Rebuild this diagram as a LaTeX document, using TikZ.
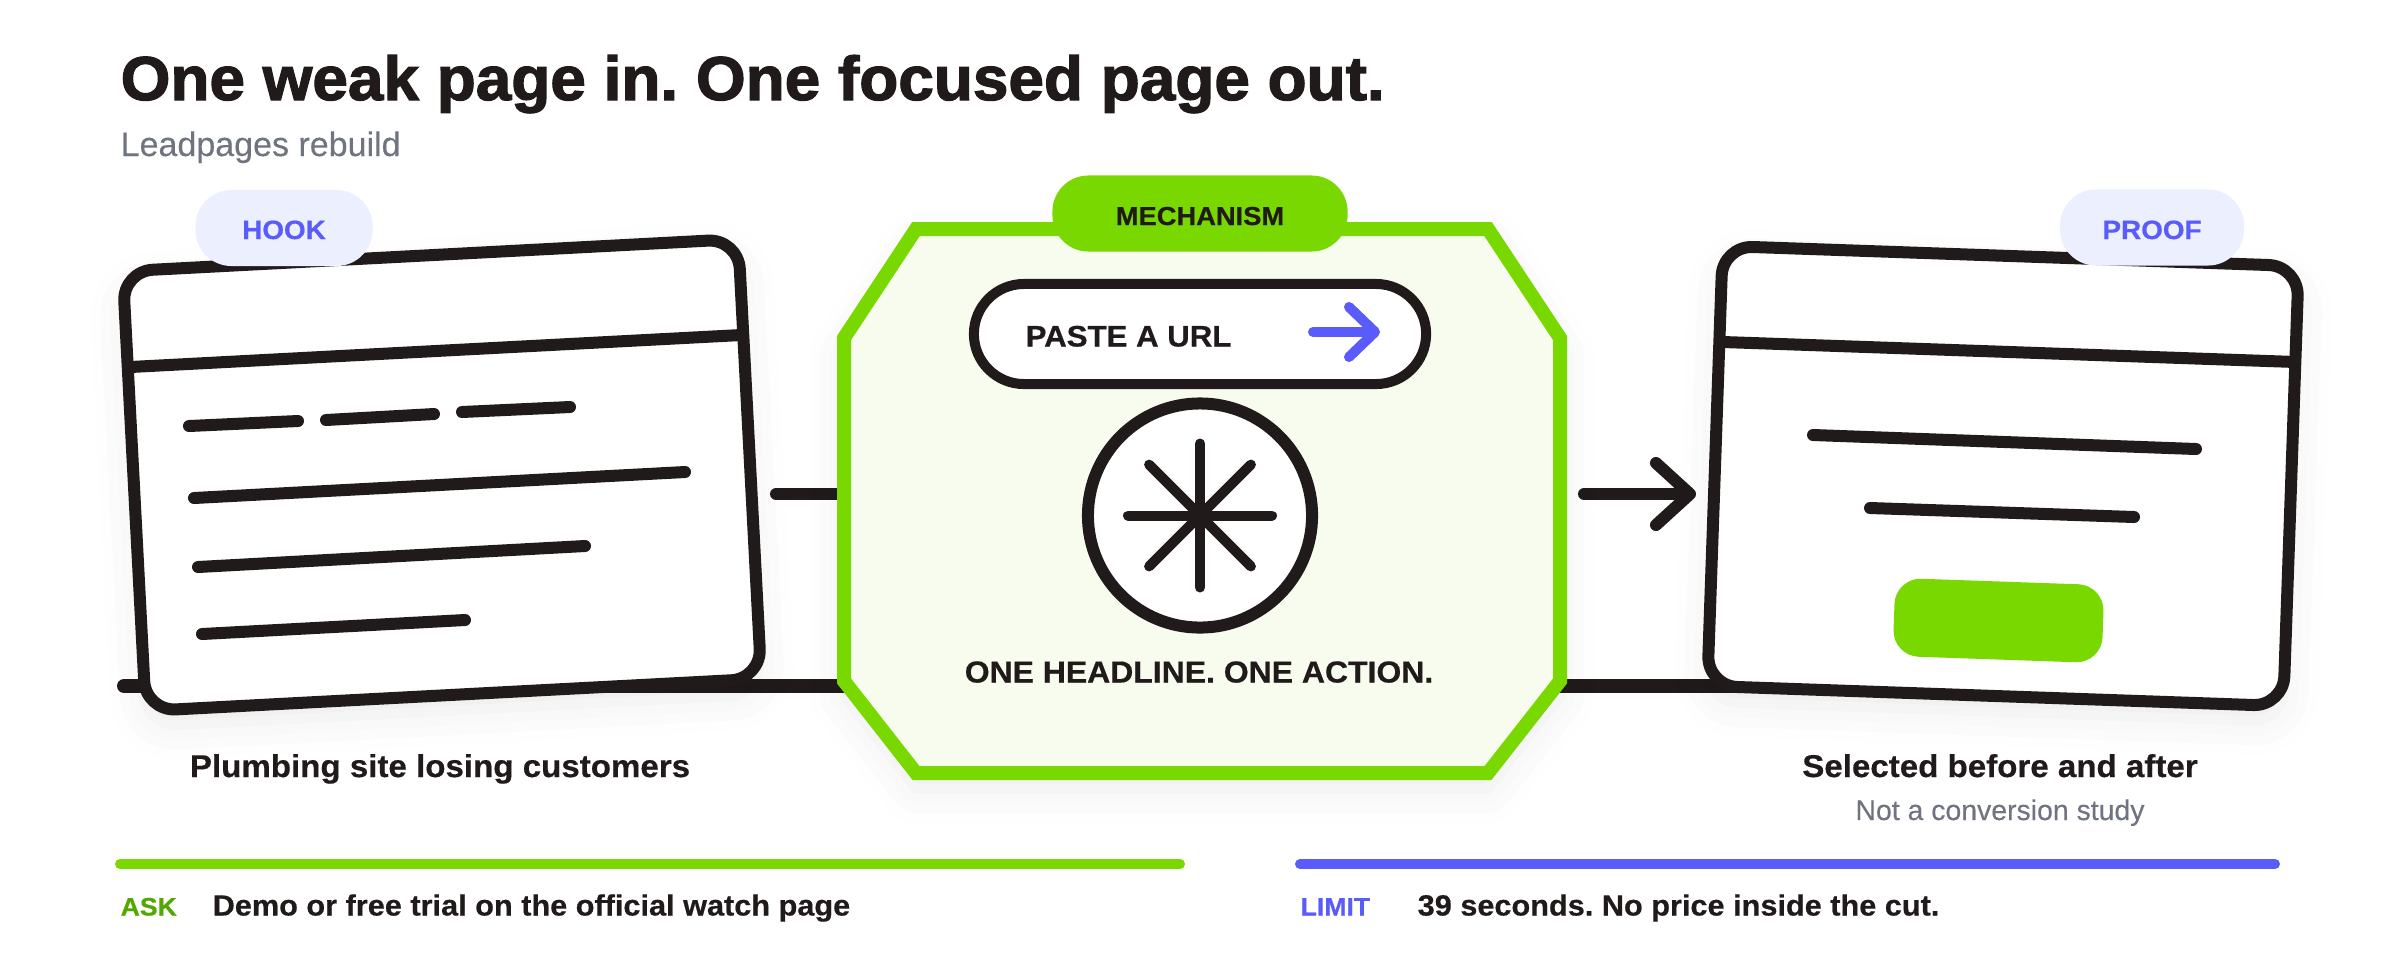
\documentclass[tikz,border=0pt]{standalone}
\usepackage{fontspec}
\setmainfont{Liberation Sans}[BoldFeatures={FakeBold=0.5,FakeStretch=1.05}]
\newfontfamily\heavyfont[FakeBold=2,FakeStretch=1.03]{Liberation Sans Bold}
\newfontfamily\softfont[FakeBold=0.25]{Liberation Sans}
\frenchspacing
\usetikzlibrary{arrows.meta,calc,shadows.blur}
% font size in reference pixels
\newcommand{\pxfont}[1]{\fontsize{\fpeval{#1*0.28453}}{\fpeval{#1*0.34}}\selectfont}
\definecolor{ink}{HTML}{211A1B}
\definecolor{limegreen}{HTML}{78D800}
\definecolor{palelime}{HTML}{F7FCEE}
\definecolor{askgreen}{HTML}{52A800}
\definecolor{indigo}{HTML}{595CFA}
\definecolor{paleindigo}{HTML}{ECEFFE}
\definecolor{slate}{HTML}{6F7480}
\tikzset{
  softshadow/.style={blur shadow={shadow xshift=0cm,shadow yshift=-0.16cm,shadow blur radius=0.34cm,shadow opacity=8}},
  pagecard/.style={draw=ink,fill=white,line width=0.12cm,rounded corners=0.3cm,outer sep=0pt,inner sep=0pt,minimum height=4.4cm,softshadow},
  cardrule/.style={draw=ink,line width=0.12cm},
  textrule/.style={draw=ink,line width=0.12cm,line cap=round},
  flow/.style={draw=ink,line width=0.12cm,line cap=round},
  tagpill/.style={fill=paleindigo,rounded corners=0.36cm,minimum height=0.76cm,inner sep=0pt},
  taglabel/.style={anchor=base,inner sep=0pt,text=indigo,font=\bfseries\pxfont{26.5}},
  headtext/.style={anchor=base,inner sep=0pt,text=ink,font=\bfseries\pxfont{31.5}},
  subtext/.style={anchor=base,inner sep=0pt,text=slate,font=\softfont\pxfont{28.4}},
  notetext/.style={anchor=base west,inner sep=0pt,text=ink,font=\bfseries\pxfont{29.2}},
  notelabel/.style={anchor=base west,inner sep=0pt,font=\bfseries\pxfont{25.3}},
  notebar/.style={line width=0.1cm,line cap=round}
}
\begin{document}
\begin{tikzpicture}[x=0.01cm,y=-0.01cm]
  \useasboundingbox (0,0) rectangle (2400,960);

  % Title and subtitle
  \node[anchor=base west,inner sep=0pt,text=ink,font=\heavyfont\pxfont{62}] (title) at (120,100) {One weak page in. One focused page out.};
  \node[anchor=base west,inner sep=0pt,text=slate,font=\softfont\pxfont{34}] (subtitle) at (120,156) {Leadpages rebuild};

  % Line running behind all three panels
  \coordinate (baseL) at (124,686);
  \coordinate (baseR) at (1800,686);
  \draw[flow,line width=0.14cm] (baseL) -- (baseR);

  % Weak page on the left
  \node[pagecard,minimum width=6.16cm,rotate=3] (weak) at (442,475) {};
  \draw[cardrule] ($(weak.north west)!0.218!(weak.south west)$) -- ($(weak.north east)!0.218!(weak.south east)$);
  \foreach \xa/\ya/\xb/\yb in {189/426/298/421,326/420/434/414,462/412/570/407,194/498/685/472,198/567/585/546,202/634/465/620}
    \draw[textrule] (\xa,\ya) -- (\xb,\yb);

  % Connectors either side of the mechanism
  \coordinate (stubL) at (776,494);
  \coordinate (mechW) at (844,494);
  \coordinate (mechE) at (1584,494);
  \coordinate (arrowR) at (1696,494);
  \draw[flow] (stubL) -- (mechW);
  \draw[flow,-{Straight Barb[length=0.34cm,width=0.62cm,round]}] (mechE) -- (arrowR);

  % Mechanism panel
  \path[draw=limegreen,fill=palelime,line width=0.14cm,miter limit=4,softshadow] (916,229) -- (1488,229) -- (1560,338) -- (1560,681) -- (1488,773) -- (916,773) -- (844,681) -- (844,338) -- cycle;
  \node[fill=limegreen,rounded corners=0.36cm,minimum width=2.95cm,minimum height=0.76cm,inner sep=0pt] (mechtag) at (1200,213.5) {};
  \node[anchor=base,inner sep=0pt,text=ink,font=\bfseries\pxfont{26}] (mechlabel) at (1200,225) {MECHANISM};

  % URL field
  \node[draw=ink,fill=white,line width=0.1cm,rounded corners=0.5cm,minimum width=4.52cm,minimum height=1cm,outer sep=0pt] (urlbox) at (1200,334) {};
  \node[anchor=base west,inner sep=0pt,text=ink,font=\bfseries\pxfont{29.7}] (urltext) at (1025,346.5) {PASTE A URL};
  \coordinate (urlS) at (1313,332);
  \coordinate (urlE) at (1380,332);
  \draw[draw=indigo,line width=0.1cm,line cap=round,-{Straight Barb[length=0.26cm,width=0.5cm,round]}] (urlS) -- (urlE);

  % Asterisk dial
  \node[draw=ink,fill=white,circle,line width=0.12cm,minimum size=2.24cm,inner sep=0pt,outer sep=0pt] (dial) at (1200,515.5) {};
  \foreach \ang in {0,45,90,135}
    \draw[draw=ink,line width=0.1cm,line cap=round] ($(dial)+(\ang:72)$) -- ($(dial)+(\ang+180:72)$);
  \node[anchor=base,inner sep=0pt,text=ink,font=\bfseries\pxfont{30.4}] (mechcaption) at (1199,682.5) {ONE HEADLINE. ONE ACTION.};

  % Focused page on the right
  \node[pagecard,minimum width=5.76cm,rotate=-2] (focus) at (2003,476) {};
  \draw[cardrule] ($(focus.north west)!0.218!(focus.south west)$) -- ($(focus.north east)!0.218!(focus.south east)$);
  \draw[textrule] (1813,435) -- (2196,449);
  \draw[textrule] (1870,508) -- (2134,517);
  \node[fill=limegreen,rounded corners=0.26cm,minimum width=2.09cm,minimum height=0.78cm,inner sep=0pt,rotate=-2] (cta) at (1998.5,620.5) {};

  % Tags
  \node[tagpill,minimum width=1.77cm] (hook) at (284,228) {};
  \node[taglabel] (hooklabel) at (284,239) {HOOK};
  \node[tagpill,minimum width=1.84cm] (proof) at (2152,227.5) {};
  \node[taglabel] (prooflabel) at (2152,239) {PROOF};

  % Captions
  \node[headtext] (weakcaption) at (440,777) {Plumbing site losing customers};
  \node[headtext] (focuscaption) at (2000,777) {Selected before and after};
  \node[subtext] (focusnote) at (2000,820) {Not a conversion study};

  % Bottom notes
  \coordinate (askL) at (120,864);
  \coordinate (askR) at (1180,864);
  \coordinate (limitL) at (1300,864);
  \coordinate (limitR) at (2275,864);
  \draw[notebar,draw=limegreen] (askL) -- (askR);
  \draw[notebar,draw=indigo] (limitL) -- (limitR);
  \node[notelabel,text=askgreen] (asklabel) at (120,915.5) {ASK};
  \node[notetext] (asktext) at (212,915.5) {Demo or free trial on the official watch page};
  \node[notelabel,text=indigo] (limitlabel) at (1300,915.5) {LIMIT};
  \node[notetext] (limittext) at (1417,915.5) {39 seconds. No price inside the cut.};
\end{tikzpicture}
\end{document}
